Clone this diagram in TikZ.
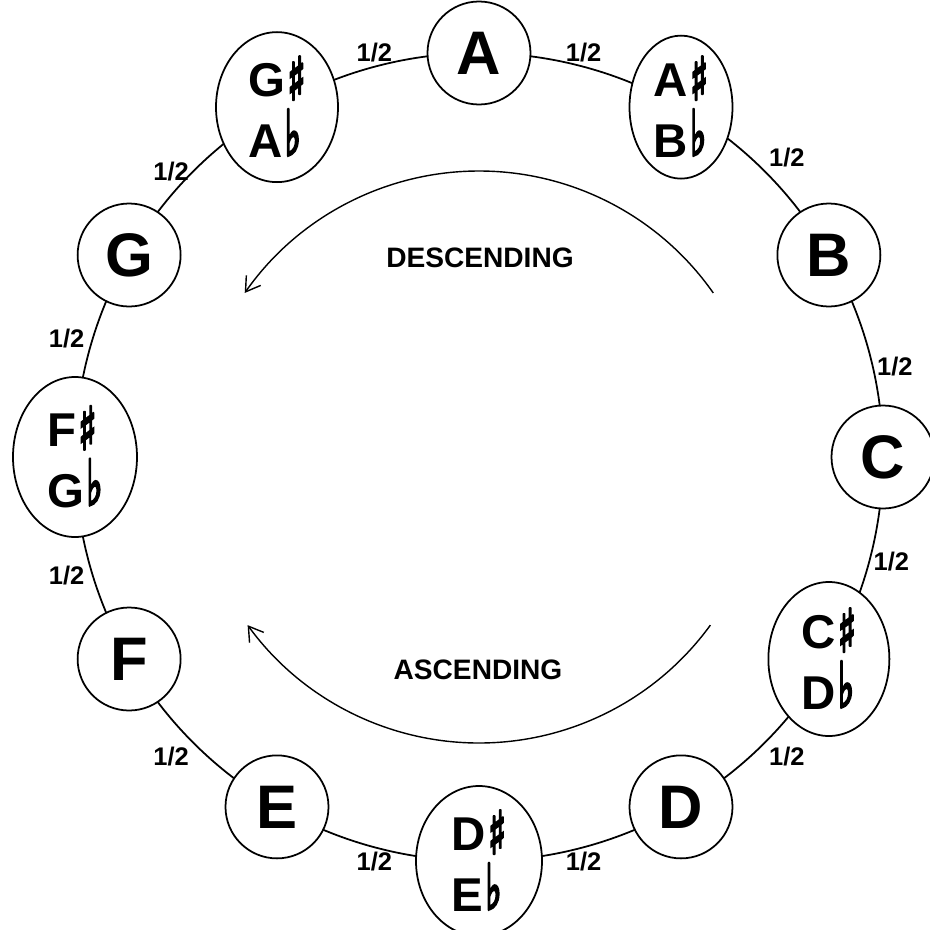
\documentclass[tikz,border=0pt]{standalone}
\usepackage{fontspec}
\usepackage{graphicx}
\setmainfont{Liberation Sans}
\newfontfamily\symfont[FakeBold=5]{DejaVu Sans}
\usetikzlibrary{shapes.geometric, arrows.meta, backgrounds}

% tall accidentals, bottom placed by hand
\newcommand{\sh}{\kern0.04cm\raisebox{\dimexpr\depth-0.06cm\relax}{\resizebox*{0.36cm}{0.86cm}{\mdseries\symfont ♯}}}
\newcommand{\fl}{\kern0.04cm\raisebox{\dimexpr\depth+0.04cm\relax}{\resizebox*{0.32cm}{0.92cm}{\mdseries\symfont ♭}}}

\tikzset{
  note/.style={circle, draw, line width=1pt, fill=white, minimum size=2.06cm,
    inner sep=0pt, font=\fontsize{35}{35}\selectfont\bfseries},
  enharm/.style={ellipse, draw, line width=1pt, fill=white, inner sep=0pt,
    align=left, font=\fontsize{27}{34.6}\selectfont\bfseries},
  semitone/.style={line width=1pt},
  half/.style={font=\fontsize{14.5}{14.5}\selectfont\bfseries, inner sep=2pt},
  turn/.style={line width=0.8pt, -{Straight Barb[length=8pt,width=10pt]}},
  dirlabel/.style={font=\fontsize{16}{16}\selectfont\bfseries}
}

\begin{document}
\begin{tikzpicture}
	\useasboundingbox (-9.58,-9.44) rectangle (9.02,9.14);
	\def\R{8.08}
	
	%//the twelve notes, A on top
	\node[note] (A) at (90:\R) {A};
	\node[enharm, minimum width=2.06cm, minimum height=2.86cm] (AB) at (60:\R) {A\sh\\B\fl};
	\node[note] (B) at (30:\R) {B};
	\node[note] (C) at (0:\R) {C};
	\node[enharm, minimum width=2.42cm, minimum height=3.08cm] (CD) at (-30:\R) {C\sh\\D\fl};
	\node[note] (D) at (-60:\R) {D};
	\node[enharm, minimum width=2.52cm, minimum height=3.0cm] (DE) at (-90:\R) {D\sh\\E\fl};
	\node[note] (E) at (-120:\R) {E};
	\node[note] (F) at (-150:\R) {F};
	\node[enharm, minimum width=2.48cm, minimum height=3.2cm] (FG) at (180:\R) {F\sh\\G\fl};
	\node[note] (G) at (150:\R) {G};
	\node[enharm, minimum width=2.44cm, minimum height=3.0cm] (GA) at (120:\R) {G\sh\\A\fl};
	
	%//half steps round the ring
	\begin{scope}[on background layer]
	\foreach \cur/\nxt/\anc/\p in {A/AB/south/0.5, AB/B/south west/0.5, B/C/west/0.57,
	    C/CD/west/0.5, CD/D/north west/0.5, D/DE/north/0.5, DE/E/north/0.5,
	    E/F/north east/0.5, F/FG/north east/0.5, FG/G/south east/0.5,
	    G/GA/east/0.5, GA/A/south/0.5}
	\draw[semitone] (\cur.center) to[bend left=15, looseness=0.87] node[half, anchor=\anc, pos=\p] {1/2} (\nxt.center);
	\end{scope}
	
	%//directions
	\coordinate (descStart) at (35:5.72);
	\draw[turn] (descStart) arc[start angle=35, end angle=145, radius=5.72];
	\node[dirlabel] (desc) at (0.02, 3.98) {DESCENDING};
	
	\coordinate (ascStart) at (-36:5.72);
	\draw[turn] (ascStart) arc[start angle=-36, end angle=-144, radius=5.72];
	\node[dirlabel] (asc) at (-0.02, -4.26) {ASCENDING};
\end{tikzpicture}
\end{document}
